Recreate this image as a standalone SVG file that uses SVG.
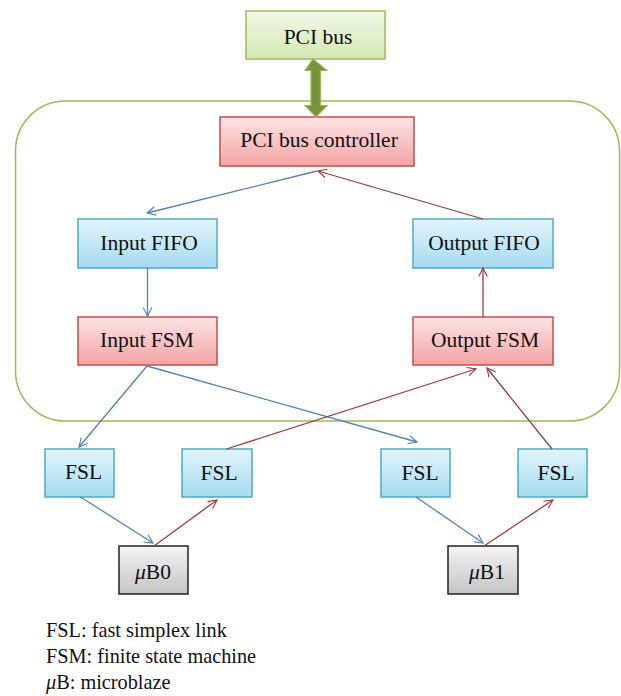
<svg xmlns="http://www.w3.org/2000/svg" width="621" height="696" viewBox="0 0 621 696">
<defs>
<linearGradient id="gGreen" x1="0" y1="0" x2="0" y2="1"><stop offset="0" stop-color="#f2f8e8"/><stop offset="1" stop-color="#d4e8b2"/></linearGradient>
<linearGradient id="gRed" x1="0" y1="0" x2="0" y2="1"><stop offset="0" stop-color="#fde4e4"/><stop offset="1" stop-color="#f4a3a3"/></linearGradient>
<linearGradient id="gBlue" x1="0" y1="0" x2="0" y2="1"><stop offset="0" stop-color="#e2f4fb"/><stop offset="1" stop-color="#a5dbf0"/></linearGradient>
<linearGradient id="gGray" x1="0" y1="0" x2="0" y2="1"><stop offset="0" stop-color="#f4f4f4"/><stop offset="1" stop-color="#c4c4c4"/></linearGradient>
<marker id="aBlue" markerWidth="12" markerHeight="12" viewBox="-12 -6 14 12" refX="0" refY="0" orient="auto" markerUnits="userSpaceOnUse"><path d="M-10,-5 L0,0 L-10,5" fill="none" stroke="#4f81bd" stroke-width="1.3"/></marker>
<marker id="aRed" markerWidth="12" markerHeight="12" viewBox="-12 -6 14 12" refX="0" refY="0" orient="auto" markerUnits="userSpaceOnUse"><path d="M-10,-5 L0,0 L-10,5" fill="none" stroke="#9b3b39" stroke-width="1.3"/></marker>
</defs>
<style>
text{font-family:'Liberation Serif','DejaVu Serif',serif;font-size:21.5px;fill:#111;text-anchor:middle}
.green{fill:url(#gGreen);stroke:#9bbb59;stroke-width:1.5}
.red{fill:url(#gRed);stroke:#c0504d;stroke-width:1.5}
.blue{fill:url(#gBlue);stroke:#4bacc6;stroke-width:1.5}
.gray{fill:url(#gGray);stroke:#222;stroke-width:1.5}
.cb{fill:none;stroke:#4f81bd;stroke-width:1.3;marker-end:url(#aBlue)}
.cr{fill:none;stroke:#9b3b39;stroke-width:1.3;marker-end:url(#aRed)}
.legend{text-anchor:start;font-size:20.3px}
</style>
<rect id="container" x="15.5" y="101" width="604" height="320" rx="50" ry="50" fill="none" stroke="#9bbb59" stroke-width="1.5"/>
<g font-family="Liberation Serif, serif">
<g id="pcibus"><rect class="green" x="246" y="11" width="139" height="48"/><text x="318" y="44">PCI bus</text></g>
<g id="pcictrl"><rect class="red" x="220" y="117" width="194" height="49"/><text x="319" y="147">PCI bus controller</text></g>
<g id="infifo"><rect class="blue" x="78" y="219" width="139" height="49"/><text x="149" y="249.5">Input FIFO</text></g>
<g id="infsm"><rect class="red" x="78" y="317" width="139" height="48"/><text x="147" y="347">Input FSM</text></g>
<g id="outfifo"><rect class="blue" x="413" y="219" width="140" height="49"/><text x="484" y="250">Output FIFO</text></g>
<g id="outfsm"><rect class="red" x="413" y="317" width="140" height="48"/><text x="485" y="347">Output FSM</text></g>
<g id="fsl1"><rect class="blue" x="45" y="449" width="69" height="48"/><text x="83.5" y="479">FSL</text></g>
<g id="fsl2"><rect class="blue" x="182" y="449" width="70" height="48"/><text x="219" y="480">FSL</text></g>
<g id="fsl3"><rect class="blue" x="381" y="449" width="69" height="48"/><text x="420" y="479.5">FSL</text></g>
<g id="fsl4"><rect class="blue" x="518" y="449" width="69" height="48"/><text x="556" y="479.5">FSL</text></g>
<g id="ub0"><rect class="gray" x="119" y="546" width="69" height="48"/><text x="153" y="578.5"><tspan font-style="italic">μ</tspan>B0</text></g>
<g id="ub1"><rect class="gray" x="448" y="546" width="70" height="48"/><text x="487" y="578.5"><tspan font-style="italic">μ</tspan>B1</text></g>
</g>
<g id="connectors">
<path d="M316,59 L330,70.5 L323.5,70.5 L323.5,105.5 L330,105.5 L319,117 L308,105.5 L314,105.5 L314,70.5 L308,70.5 Z" fill="#77933c" stroke="#9bbb59" stroke-width="1.2" transform="translate(-3,0)"/>
<path class="cb" d="M317,171 L147,213"/>
<path class="cr" d="M483,219 L318,171"/>
<path class="cb" d="M147.5,268 L147.5,316"/>
<path class="cr" d="M483,317 L483,268"/>
<path class="cb" d="M147,366 L79,447"/>
<path class="cb" d="M147,366 L417,442"/>
<path class="cr" d="M226.5,449 L476,369"/>
<path class="cr" d="M552,449 L487,368"/>
<path class="cb" d="M80.5,497 L153,543"/>
<path class="cr" d="M154,546 L217,500"/>
<path class="cb" d="M416,497 L483,543"/>
<path class="cr" d="M484,546 L553,500"/>
</g>
<g id="legend" font-family="Liberation Serif, serif">
<text class="legend" x="46" y="637">FSL: fast simplex link</text>
<text class="legend" x="46" y="663">FSM: finite state machine</text>
<text class="legend" x="46" y="689"><tspan font-style="italic">μ</tspan>B: microblaze</text>
</g>
</svg>
